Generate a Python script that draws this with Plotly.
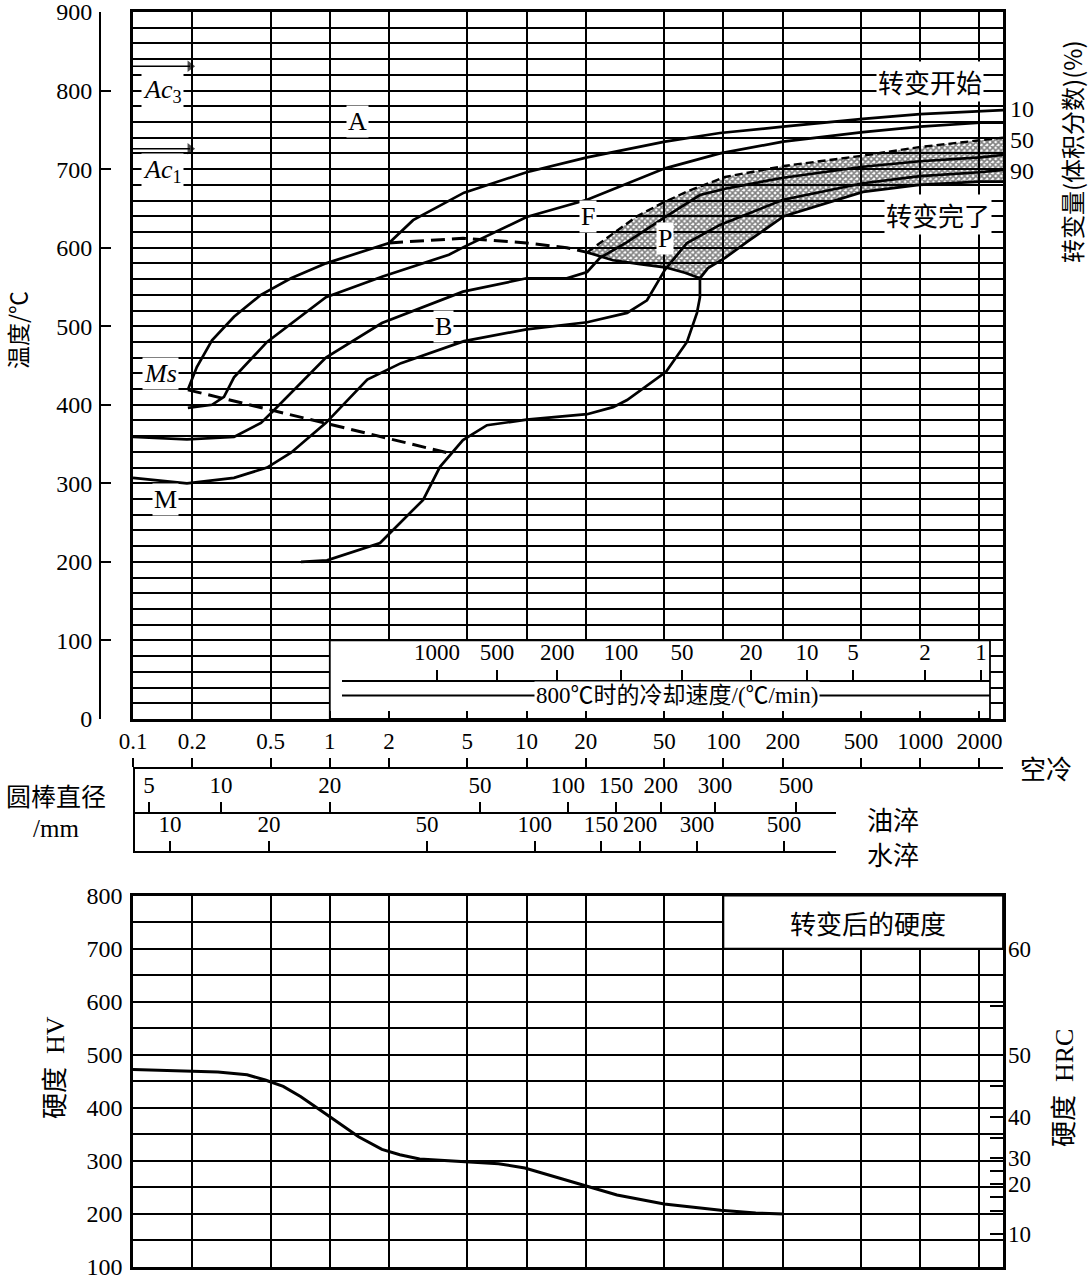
import math
import plotly.graph_objects as go

# ---------------- data ----------------
TIME_GRID_S = [0.1, 0.2, 0.5, 1, 2, 5, 10, 20, 50, 100, 200, 500, 1000, 2000]
TIME_LABELS = ["0.1", "0.2", "0.5", "1", "2", "5", "10", "20", "50", "100", "200", "500", "1000", "2000"]

# transformation curves: time (s) / temperature (°C)
C1_S = [0.19, 0.211, 0.252, 0.326, 0.447, 0.635, 0.956, 1.44, 2.0, 2.65, 4.81, 10.0, 20.3, 50.5, 96, 201, 512, 998, 2013, 2635]
C1_C = [419, 448, 482, 512, 540, 561, 580, 594, 606, 635, 670, 696, 715, 735, 746, 754, 764, 770, 774, 775]

C2_S = [0.19, 0.252, 0.29, 0.326, 0.48, 0.956, 1.84, 4.03, 4.81, 10.0, 20.3, 50.5, 96, 201, 512, 998, 2013, 2635]
C2_C = [396, 400, 410, 435, 480, 537, 563, 591, 601, 639, 661, 701, 720, 735, 747, 754, 759, 759]

C3_S = [0.10, 0.188, 0.326, 0.447, 0.52, 0.956, 1.84, 4.75, 10.0, 16.0, 20.3, 23.6, 32.4, 50.5, 76, 102, 201, 512, 998, 2013, 2635]
C3_C = [359, 356, 359, 377, 393, 460, 504, 544, 561, 561, 569, 587, 607, 639, 667, 675, 689, 703, 710, 715, 718]

C4_S = [0.10, 0.188, 0.326, 0.48, 0.635, 0.956, 1.55, 2.30, 4.81, 10.0, 20.3, 32.4, 40.9, 50.5, 65.3, 96, 201, 512, 998, 2013, 2635]
C4_C = [307, 300, 307, 320, 339, 377, 432, 453, 481, 496, 505, 517, 533, 572, 606, 629, 661, 682, 691, 696, 699]

C5_LOW_S = [0.714, 0.968, 1.80, 2.98, 3.63, 4.75, 6.29, 10.0, 20.3, 27.5, 32.4, 51.1, 65.3, 73.4, 76.0, 76.0]
C5_LOW_C = [200, 202, 224, 279, 321, 355, 374, 381, 388, 397, 406, 442, 480, 517, 537, 561]
C5_UP_S = [76.0, 83.5, 102, 133, 203, 512, 986, 2013, 2635]
C5_UP_C = [561, 574, 587, 608, 640, 671, 680, 684, 684]

PE_S = [20.3, 27.5, 37.7, 50.5, 63.8, 76.0]
PE_C = [594, 584, 579, 575, 568, 561]

HATCH_TOP_S = [20.3, 27.8, 36.4, 48.2, 66.1, 102, 203, 506, 986, 2635]
HATCH_TOP_C = [594, 619, 640, 656, 672, 690, 704, 717, 728, 740]

DASH_F_S = [2.0, 4.75, 10.0, 16.0, 20.3]
DASH_F_C = [606, 612, 606, 600, 594]

MS_S = [0.19, 3.94]
MS_C = [419, 339]

# Ac3 / Ac1 arrows: from-to time (s) at their temperature (°C)
AC_ARROW_S = [0.1, 0.195]
AC3_C = 831
AC1_C = 726

RIGHT_PCT_LABELS = ["10", "50", "90"]
RIGHT_PCT_AT_C = [776, 737, 697]

# cooling-rate scale at 800 °C (°C/min) and where each sits on the time axis
RATE_LABELS = ["1000", "500", "200", "100", "50", "20", "10", "5", "2", "1"]
RATE_AT_S = [3.51, 7.07, 14.3, 30.2, 61.6, 138, 266, 455, 1058, 2037]

# round-bar diameters (mm) and equivalent time positions
OIL_LABELS = ["5", "10", "20", "50", "100", "150", "200", "300", "500"]
OIL_AT_S = [0.1206, 0.280, 1.00, 5.80, 16.2, 28.5, 48.0, 90.6, 234]
WATER_LABELS = ["10", "20", "50", "100", "150", "200", "300", "500"]
WATER_AT_S = [0.154, 0.491, 3.12, 11.0, 23.9, 37.7, 73.4, 203]

# hardness after transformation
HV_S = [0.1, 0.19, 0.27, 0.38, 0.47, 0.58, 0.71, 0.92, 1.08, 1.40, 1.84, 2.27, 2.86, 4.75, 7.2, 9.8, 13.8, 19.7, 28.8, 50, 97, 146, 203]
HV_V = [472, 469, 467, 462, 452, 440, 421, 392, 374, 345, 321, 311, 303, 298, 294, 286, 270, 254, 235, 218, 206, 201, 199]

HV_TICKS = [100, 200, 300, 400, 500, 600, 700, 800]
HRC_LABELS = ["60", "50", "40", "30", "20", "10"]
HRC_AT_HV = [700, 500, 382, 305, 255, 162]
HRC_MINOR_AT_HV = [592, 440, 342, 280, 232, 205]

# ---------------- layout constants ----------------
W, H = 1088, 1275
PX_L, PX_R = 133, 1003
DEC = 196.8
LOG_L = -1.0


def px2log(px):
    return LOG_L + (px - PX_L) / DEC


LOG_R = px2log(PX_R)


def fx(px):
    return px / W


def fy(py):
    return 1 - py / H


SERIF = "Liberation Serif, Times New Roman, serif"
CJK = "Noto Sans CJK SC, sans-serif"
MIX = "Liberation Serif, Noto Sans CJK SC, serif"
BLACK = "black"
GRID_W = 1.8
CURVE_W = 2.7

fig = go.Figure()


def curve(xs, ys, dash=None, width=CURVE_W, xa="x", ya="y"):
    fig.add_trace(go.Scatter(x=xs, y=ys, mode="lines", xaxis=xa, yaxis=ya,
                             line=dict(color=BLACK, width=width, dash=dash),
                             showlegend=False, hoverinfo="skip"))


# hatched pearlite region
hatch_x = HATCH_TOP_S + C5_UP_S[::-1] + PE_S[::-1]
hatch_y = HATCH_TOP_C + C5_UP_C[::-1] + PE_C[::-1]
fig.add_trace(go.Scatter(x=hatch_x, y=hatch_y, mode="lines", fill="toself",
                         fillcolor="rgba(0,0,0,0)",
                         fillpattern=dict(shape="x", fgcolor=BLACK, bgcolor="rgba(255,255,255,0)",
                                          size=4, solidity=0.65),
                         line=dict(color="rgba(0,0,0,0)", width=0),
                         showlegend=False, hoverinfo="skip"))

curve(C1_S, C1_C)
curve(C2_S, C2_C)
curve(C3_S, C3_C)
curve(C4_S, C4_C)
curve(C5_LOW_S + C5_UP_S, C5_LOW_C + C5_UP_C)
curve(PE_S, PE_C)
curve(HATCH_TOP_S, HATCH_TOP_C, dash="8px,4px", width=2.4)
curve(DASH_F_S, DASH_F_C, dash="14px,7px", width=3)
curve(MS_S, MS_C, dash="14px,7px", width=3)

# Ac3 / Ac1 arrows
for c in (AC3_C, AC1_C):
    fig.add_trace(go.Scatter(x=AC_ARROW_S, y=[c, c], mode="lines+markers",
                             line=dict(color=BLACK, width=1.6),
                             marker=dict(symbol=["line-ns", "triangle-right"], size=[0, 10],
                                         color=BLACK, line=dict(width=0)),
                             showlegend=False, hoverinfo="skip", cliponaxis=False))

# hardness curve
curve(HV_S, HV_V, xa="x3", ya="y3", width=3)

# dummy (invisible) traces so every extra axis is drawn
for xa, ya in [("x", "y2"), ("x2", "y"), ("x4", "y5"), ("x5", "y5"), ("x6", "y5"), ("x3", "y4")]:
    fig.add_trace(go.Scatter(x=[1], y=[0.5], xaxis=xa, yaxis=ya, mode="markers",
                             marker=dict(opacity=0, size=1), showlegend=False, hoverinfo="skip"))

# ---------------- axes ----------------
xdom = [fx(PX_L), fx(PX_R)]
top_dom = [fy(719), fy(12)]
bot_dom = [fy(1266.5), fy(895.7)]
tickfont = dict(family=SERIF, size=23, color=BLACK)

common_x = dict(type="log", range=[LOG_L, LOG_R], tickvals=TIME_GRID_S, showticklabels=False,
                showgrid=True, gridcolor=BLACK, gridwidth=GRID_W, zeroline=False, automargin=False,
                showline=True, mirror=True, linecolor=BLACK, linewidth=2.5)


def scale_axis(domain, pos, rng, vals, text):
    return dict(domain=domain, anchor="free", position=pos, side="top", type="log", range=rng,
                tickvals=vals, ticktext=text, ticks="outside", ticklen=10, tickwidth=2,
                tickcolor=BLACK, showline=True, linecolor=BLACK, linewidth=2, showgrid=False,
                zeroline=False, automargin=False, tickfont=tickfont, ticklabeloverflow="allow")


fig.update_layout(
    width=W, height=H, margin=dict(l=0, r=0, t=0, b=0, pad=0, autoexpand=False),
    paper_bgcolor="white", plot_bgcolor="rgba(0,0,0,0)", showlegend=False,
    xaxis=dict(domain=xdom, anchor="y", ticks="inside", ticklen=8, tickwidth=2, tickcolor=BLACK,
               **common_x),
    yaxis=dict(domain=top_dom, anchor="x", range=[0, 900], dtick=20, showticklabels=False, ticks="",
               showgrid=True, gridcolor=BLACK, gridwidth=GRID_W, zeroline=False, automargin=False,
               showline=True, mirror=True, linecolor=BLACK, linewidth=2.5),
    yaxis2=dict(overlaying="y", anchor="free", position=fx(100), side="left", range=[0, 900],
                tickvals=[0, 100, 200, 300, 400, 500, 600, 700, 800, 900],
                ticks="inside", ticklen=10, tickwidth=2, tickcolor=BLACK, automargin=False,
                showline=True, linecolor=BLACK, linewidth=2, showgrid=False, zeroline=False,
                ticklabeloverflow="allow", ticklabelstandoff=2,
                tickfont=dict(family=SERIF, size=24, color=BLACK)),
    xaxis2=dict(overlaying="x", anchor="free", position=fy(768), side="top", type="log",
                range=[LOG_L, LOG_R], tickvals=TIME_GRID_S, ticktext=TIME_LABELS,
                ticks="outside", ticklen=9, tickwidth=2, tickcolor=BLACK, automargin=False,
                showline=True, linecolor=BLACK, linewidth=2, showgrid=False, zeroline=False,
                ticklabeloverflow="allow", tickfont=tickfont),
    xaxis4=scale_axis([fx(PX_L), fx(836)], fy(813), [LOG_L, px2log(836)], OIL_AT_S, OIL_LABELS),
    xaxis5=scale_axis([fx(PX_L), fx(836)], fy(852), [LOG_L, px2log(836)], WATER_AT_S, WATER_LABELS),
    xaxis6=scale_axis([fx(342), fx(990)], fy(680.5), [px2log(342), px2log(990)], RATE_AT_S, RATE_LABELS),
    yaxis5=dict(domain=[0, 1], range=[0, 1], visible=False, showgrid=False, zeroline=False,
                automargin=False),
    xaxis3=dict(domain=xdom, anchor="y3", ticks="", **common_x),
    yaxis3=dict(domain=bot_dom, anchor="x3", range=[100, 800],
                tickvals=list(range(100, 801, 50)),
                ticktext=[str(v) if v in HV_TICKS else "" for v in range(100, 801, 50)],
                ticks="", showgrid=True, gridcolor=BLACK, gridwidth=GRID_W, zeroline=False,
                showline=True, mirror=True, linecolor=BLACK, linewidth=2.5, automargin=False,
                ticklabeloverflow="allow", ticklabelstandoff=3,
                tickfont=dict(family=SERIF, size=24, color=BLACK)),
    yaxis4=dict(overlaying="y3", anchor="x3", side="right", range=[100, 800],
                tickvals=HRC_AT_HV + HRC_MINOR_AT_HV,
                ticktext=HRC_LABELS + [""] * len(HRC_MINOR_AT_HV),
                ticks="inside", ticklen=13, tickwidth=2, tickcolor=BLACK, automargin=False,
                showline=False, showgrid=False, zeroline=False,
                ticklabeloverflow="allow", ticklabelstandoff=4,
                tickfont=dict(family=SERIF, size=23, color=BLACK)),
)

# ---------------- shapes ----------------
t_rate_right = 10 ** px2log(990)
t_right = 10 ** LOG_R
fig.add_shape(type="rect", xref="x", yref="y", x0=1, x1=t_rate_right, y0=0, y1=100,
              fillcolor="white", line=dict(color=BLACK, width=GRID_W), layer="between")
fig.add_shape(type="line", xref="x", yref="y", x0=10 ** px2log(342), x1=t_rate_right, y0=30, y1=30,
              line=dict(color=BLACK, width=2), layer="between")
fig.add_shape(type="rect", xref="x3", yref="y3", x0=100, x1=t_right, y0=700, y1=800,
              fillcolor="white", line=dict(color=BLACK, width=GRID_W), layer="between")
# connector of the three scale rows
fig.add_shape(type="line", xref="paper", yref="paper", x0=fx(PX_L + 1), x1=fx(PX_L + 1),
              y0=fy(768), y1=fy(852), line=dict(color=BLACK, width=2))

# ---------------- annotations ----------------
ann = []


def lab(text, t, c, size=26, family=SERIF, bg="white", xa="x", ya="y", **kw):
    ann.append(dict(text=text, x=math.log10(t), y=c, xref=xa, yref=ya, showarrow=False,
                    xanchor="center", yanchor="middle",
                    font=dict(family=family, size=size, color=BLACK), bgcolor=bg, borderpad=1, **kw))


def plab(text, px, py, size=26, family=CJK, angle=0, **kw):
    ann.append(dict(text=text, x=fx(px), y=fy(py), xref="paper", yref="paper", showarrow=False,
                    xanchor="center", yanchor="middle",
                    textangle=angle, font=dict(family=family, size=size, color=BLACK), **kw))


lab("A", 1.375, 760)
lab("B", 3.76, 500)
lab("F", 20.5, 640)
lab("P", 50.5, 612)
lab("M", 0.1455, 280)
lab("<i>Ms</i>", 0.1372, 440)
lab("<i>Ac</i><sub>3</sub>", 0.142, 800)
lab("<i>Ac</i><sub>1</sub>", 0.142, 697)
lab("转变开始", 1121, 811, family=CJK)
lab("转变完了", 1231, 642, family=CJK)
lab("800℃时的冷却速度/(℃/min)", 58.1, 30, size=23, family=MIX)
lab("转变后的硬度", 10 ** px2log(868), 750, family=CJK, bg="rgba(0,0,0,0)", xa="x3", ya="y3")

for txt, c in zip(RIGHT_PCT_LABELS, RIGHT_PCT_AT_C):
    ann.append(dict(text=txt, x=fx(1008), y=c, xref="paper", yref="y", xanchor="left",
                    yanchor="middle", showarrow=False, font=dict(family=SERIF, size=24, color=BLACK)))

plab("温度/℃", 17, 330, size=23, angle=-90)
plab("转变量(体积分数)(%)", 1071, 152, size=24, angle=-90)
plab("空冷", 1046, 768, size=26)
plab("油淬", 893, 818, size=26)
plab("水淬", 893, 853, size=26)
plab("圆棒直径", 56, 795, size=25)
plab("/mm", 56, 828, size=25, family=SERIF)
plab("硬度\u00a0\u00a0HV", 55, 1068, size=26, family=MIX, angle=-90)
plab("硬度\u00a0\u00a0HRC", 1064, 1088, size=26, family=MIX, angle=-90)

fig.update_layout(annotations=ann)
fig.write_html("out.html")
